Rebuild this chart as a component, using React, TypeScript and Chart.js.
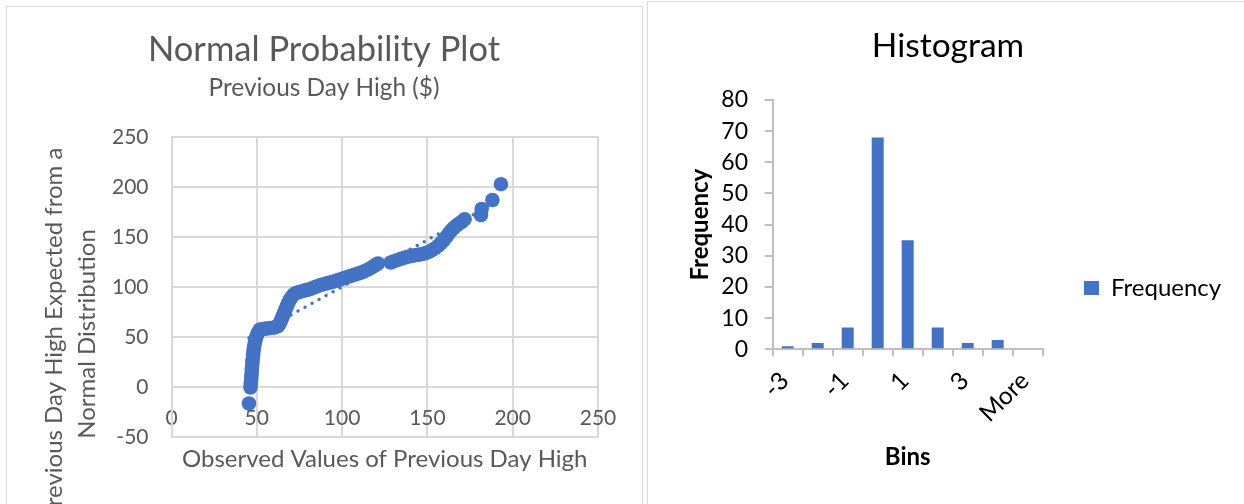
import React, { useEffect, useRef } from 'react';
import { Chart, registerables } from 'chart.js';

Chart.register(...registerables);

// ---------- Normal probability plot data ----------
const observedValues = [
  45.4, 46.3,
  46.5, 46.7, 46.8, 47.0, 47.1, 47.3, 47.4, 47.6, 47.8, 48.0, 48.3, 48.6, 49.0, 49.5, 50.1, 50.9, 51.9,
  53.6, 55.5, 57.4, 59.3, 61.0, 62.4,
  63.4, 64.2, 65.0, 65.7, 66.4, 67.1, 67.8, 68.6, 69.5, 70.5, 71.7, 73.0,
  74.8, 76.6, 78.4, 80.2, 82.0, 83.8, 85.6, 87.4, 89.2, 91.0, 92.8, 94.6, 96.4, 98.2, 100.0, 101.8,
  103.6, 105.4, 107.2, 109.0, 110.8, 112.6, 114.4, 116.2, 118.0, 119.6, 121.0,
  128.5, 130.5, 132.5, 134.5, 136.5, 138.5, 140.5, 142.5, 144.5, 146.5, 148.5, 150.5, 152.5, 154.5,
  156.3, 158.0, 159.6, 161.1, 162.5, 163.9, 165.4, 167.0, 168.6, 170.2, 171.8,
  181.4, 181.8, 188.1, 193.1,
];
const expectedValues = [
  -16.5, -0.5,
  3.5, 7, 10.5, 14, 17.5, 21, 24.5, 28, 31.5, 35, 38.5, 42, 45.5, 49, 52, 55, 57.5,
  58, 58.4, 58.8, 59.2, 59.8, 61,
  63.5, 66.5, 69.5, 72.5, 75.5, 78.5, 81.5, 84.5, 87.5, 90.2, 92.5, 94,
  95, 95.8, 96.6, 97.4, 98.4, 99.6, 100.8, 102, 102.8, 103.6, 104.4, 105.2, 106.2, 107.2, 108.2, 109.2,
  110.2, 111.2, 112.2, 113.2, 114.2, 115.4, 116.8, 118.4, 120.2, 122, 123.5,
  124.5, 125.8, 127, 128.2, 129.2, 130.2, 131, 131.6, 132.2, 132.8, 133.6, 134.8, 136.6, 138.8,
  141.2, 144, 147, 150.2, 153.4, 156.4, 159, 161.4, 163.4, 165.2, 167.8,
  172, 178, 187, 202.8,
];
const trendObserved = [45.4, 193.1];
const trendExpected = [49, 187.5];
const probXTicks = [0, 50, 100, 150, 200, 250];
const probYTicks = [-50, 0, 50, 100, 150, 200, 250];

// ---------- Histogram data ----------
const binLabels = ['-3', '-2', '-1', '0', '1', '2', '3', '4', 'More'];
const binFrequencies = [1, 2, 7, 68, 35, 7, 2, 3, 0];
const freqTicks = [0, 10, 20, 30, 40, 50, 60, 70, 80];

const FONT = 'Lato';
const GRAY = '#595959';
const BLUE = '#4472C4';
const GRID = '#d9d9d9';
const AXIS = '#bfbfbf';

Chart.defaults.font.family = FONT;

function NormalPlot() {
  const ref = useRef<HTMLCanvasElement>(null);
  useEffect(() => {
    const yTitlePlugin = {
      id: 'yTitleTwoLines',
      afterDraw(chart: any) {
        const ctx = chart.ctx;
        const lines: [number, string][] = [
          [47, 'Previous Day High Expected from a'],
          [80, 'Normal Distribution'],
        ];
        ctx.save();
        ctx.fillStyle = GRAY;
        ctx.font = `24px ${FONT}`;
        ctx.textAlign = 'center';
        ctx.textBaseline = 'middle';
        for (const [x, t] of lines) {
          ctx.save();
          ctx.translate(x, 327);
          ctx.rotate(-Math.PI / 2);
          ctx.fillText(t, 0, 0);
          ctx.restore();
        }
        ctx.restore();
      },
    };
    const chart = new Chart(ref.current as HTMLCanvasElement, {
      type: 'scatter',
      data: {
        datasets: [
          {
            label: 'Expected',
            data: observedValues.map((x, i) => ({ x, y: expectedValues[i] })),
            backgroundColor: BLUE,
            borderColor: BLUE,
            pointRadius: 7.3,
            pointHoverRadius: 7.3,
            pointBorderWidth: 0,
          },
          {
            label: 'Trend',
            data: trendObserved.map((x, i) => ({ x, y: trendExpected[i] })),
            showLine: true,
            pointRadius: 0,
            borderColor: BLUE,
            borderWidth: 3.5,
            borderDash: [0, 8],
            borderCapStyle: 'round',
          } as any,
        ],
      },
      options: {
        responsive: false,
        animation: false,
        devicePixelRatio: 1,
        events: [],
        layout: { padding: { left: 43, right: 43, top: 0, bottom: 0 } },
        plugins: {
          legend: { display: false },
          tooltip: { enabled: false },
          title: {
            display: true,
            text: 'Normal Probability Plot',
            color: GRAY,
            font: { family: FONT, size: 34.5, weight: 'normal', lineHeight: 1 },
            padding: { top: 26, bottom: 0 },
          },
          subtitle: {
            display: true,
            text: 'Previous Day High ($)',
            color: GRAY,
            font: { family: FONT, size: 24.4, weight: 'normal', lineHeight: 1 },
            padding: { top: 8.3, bottom: 36.8 },
          },
        },
        scales: {
          x: {
            type: 'linear',
            min: probXTicks[0],
            max: probXTicks[probXTicks.length - 1],
            afterBuildTicks: (s: any) => { s.ticks = probXTicks.map((v) => ({ value: v })); },
            ticks: { color: GRAY, font: { family: FONT, size: 21 }, mirror: true, padding: 6.4, maxRotation: 0 },
            grid: { color: GRID, lineWidth: 2, drawTicks: false },
            border: { color: GRID, width: 2 },
            title: {
              display: true,
              text: 'Observed Values of Previous Day High',
              color: GRAY,
              font: { family: FONT, size: 24 },
              padding: { top: 0, bottom: 30.6 },
            },
            afterFit: (s: any) => { s.height = 67; },
          },
          y: {
            type: 'linear',
            min: probYTicks[0],
            max: probYTicks[probYTicks.length - 1],
            afterBuildTicks: (s: any) => { s.ticks = probYTicks.map((v) => ({ value: v })); },
            ticks: { color: GRAY, font: { family: FONT, size: 21 }, padding: 23 },
            grid: { color: GRID, lineWidth: 2, drawTicks: false },
            border: { color: GRID, width: 2 },
            afterFit: (s: any) => { s.width = 121.5; },
          },
        },
      } as any,
      plugins: [yTitlePlugin],
    });
    return () => chart.destroy();
  }, []);
  return <canvas ref={ref} width={634} height={497} style={{ display: 'block', width: 634, height: 497 }} />;
}

function Histogram() {
  const ref = useRef<HTMLCanvasElement>(null);
  useEffect(() => {
    const W = 596;
    const legendFontSize = 24;
    const m = document.createElement('canvas').getContext('2d') as CanvasRenderingContext2D;
    m.font = `${legendFontSize}px ${FONT}`;
    const tw = m.measureText('Frequency').width;
    const chartRight = 394.7;
    const boxX = 436;
    const boxW = 15;
    const legendPad = boxX - chartRight;
    const legendWidth = legendPad + boxW + legendFontSize / 2 + tw + 10;
    const legendRight = chartRight + legendWidth;
    const pr = W - legendRight;
    const pl = 600 - legendRight;
    const chartLeft = 124.7;

    const chart = new Chart(ref.current as HTMLCanvasElement, {
      type: 'bar',
      data: {
        labels: binLabels,
        datasets: [
          {
            label: 'Frequency',
            data: binFrequencies,
            backgroundColor: BLUE,
            borderWidth: 0,
            categoryPercentage: 1,
            barPercentage: 0.4,
          },
        ],
      },
      options: {
        responsive: false,
        animation: false,
        devicePixelRatio: 1,
        events: [],
        layout: { padding: { left: pl, right: pr, top: 0, bottom: 0 } },
        plugins: {
          tooltip: { enabled: false },
          title: {
            display: true,
            text: 'Histogram',
            color: '#000',
            font: { family: FONT, size: 33.5, weight: 'normal', lineHeight: 1 },
            padding: { top: 27.25, bottom: 37.25 },
          },
          legend: {
            position: 'right',
            fullSize: true,
            maxWidth: legendWidth + 2,
            labels: {
              boxWidth: boxW,
              boxHeight: 14,
              padding: legendPad,
              color: '#000',
              font: { family: FONT, size: legendFontSize },
            },
          },
        },
        scales: {
          x: {
            ticks: {
              color: '#000',
              font: { family: FONT, size: 24.5 },
              minRotation: 45,
              maxRotation: 45,
              autoSkip: false,
              padding: 10,
              labelOffset: -3,
              callback: (_v: any, i: number) => (i % 2 === 0 ? binLabels[i] : ''),
            },
            grid: { drawOnChartArea: false, drawTicks: true, tickLength: 7, color: AXIS, lineWidth: 2 },
            border: { color: AXIS, width: 2 },
            title: {
              display: true,
              text: 'Bins',
              color: '#000',
              font: { family: FONT, size: 24, weight: 'bold' },
              padding: { top: 0, bottom: 102.6 },
            },
            afterFit: (s: any) => { s.height = 572 - 347.3; },
          },
          y: {
            min: freqTicks[0],
            max: freqTicks[freqTicks.length - 1],
            afterBuildTicks: (s: any) => { s.ticks = freqTicks.map((v) => ({ value: v })); },
            ticks: { color: '#000', font: { family: FONT, size: 23 }, padding: 16.7 },
            grid: { drawOnChartArea: false, drawTicks: true, tickLength: 8, color: AXIS, lineWidth: 2 },
            border: { color: AXIS, width: 2 },
            title: {
              display: true,
              text: 'Frequency',
              color: '#000',
              font: { family: FONT, size: 24, weight: 'bold' },
              padding: { top: 52 - pl - 14.4, bottom: 0 },
            },
            afterFit: (s: any) => { s.width = chartLeft - pl; },
          },
        },
      } as any,
    });
    return () => chart.destroy();
  }, []);
  return <canvas ref={ref} width={596} height={572} style={{ display: 'block', width: 596, height: 572 }} />;
}

export default function App() {
  return (
    <div style={{ position: 'fixed', left: 0, top: 0, width: 1244, height: 504, overflow: 'hidden', background: '#fff' }}>
      <div
        style={{
          position: 'absolute', left: 6, top: 6, width: 637, height: 560,
          border: `1px solid ${GRID}`, boxSizing: 'border-box', background: '#fff', overflow: 'hidden',
        }}
      >
        <NormalPlot />
      </div>
      <div
        style={{
          position: 'absolute', left: 647, top: 1, width: 620, height: 600,
          border: `1px solid ${GRID}`, boxSizing: 'border-box', background: '#fff', overflow: 'hidden',
        }}
      >
        <Histogram />
      </div>
    </div>
  );
}
